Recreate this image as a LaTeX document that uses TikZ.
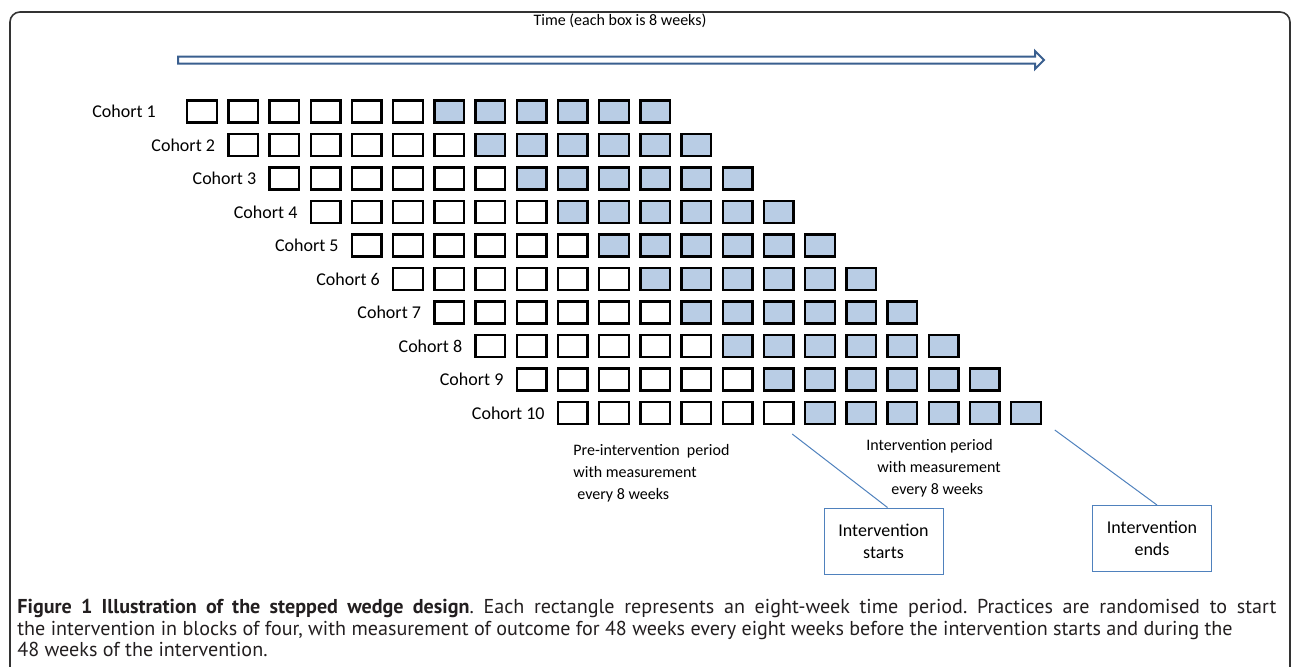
\documentclass[tikz,border=0pt]{standalone}
\usepackage{fontspec}
\setmainfont{Carlito}
\newfontfamily\captionfont{PT Sans}
\usepackage{tikz}
\usetikzlibrary{calc, positioning}
\definecolor{boxblue}{HTML}{B9CDE5}
\definecolor{lineblue}{HTML}{4F81BD}
\definecolor{arrowblue}{HTML}{3A5F8F}
\definecolor{framegray}{HTML}{333333}
\definecolor{captiongray}{HTML}{231F20}

\begin{document}
\begin{tikzpicture}[
    x=0.5pt, y=-0.5pt,
    period/.style={draw, line width=1.2pt, minimum width=14.8pt, minimum height=11pt, inner sep=0pt, outer sep=0pt},
    pre/.style={period, fill=white},
    post/.style={period, fill=boxblue},
    cohortlabel/.style={font=\fontsize{9}{11}\selectfont, anchor=east, inner sep=0pt},
    note/.style={font=\fontsize{8}{11}\selectfont, align=left, inner sep=0pt},
    callout/.style={draw=lineblue, line width=0.5pt, minimum width=59.5pt, minimum height=33pt, align=center, font=\fontsize{9}{11}\selectfont},
    pointer/.style={draw=lineblue, line width=0.5pt}
]
    \useasboundingbox (0,0) rectangle (1292,666);

    % Frame
    \draw[framegray, line width=0.8pt, rounded corners=5pt] (10,670) -- (10,12) -- (1290,12) -- (1290,670);

    % Time arrow
    \node[font=\fontsize{8}{10}\selectfont] (timelabel) at (620,21) {Time (each box is 8 weeks)};
    \draw[arrowblue, line width=1pt, fill=white] (178,56.5) -- (1035,56.5) -- (1035,51) -- (1044,60) -- (1035,69) -- (1035,63.5) -- (178,63.5) -- cycle;

    % Cohort rows - six periods before, six periods with intervention
    \foreach \r in {1,...,10} {
        \foreach \c in {1,...,12} {
            \pgfmathsetmacro{\bx}{202+41.2*(\r-1)+41.2*(\c-1)}
            \pgfmathsetmacro{\by}{111.5+33.5*(\r-1)}
            \ifnum\c<7
                \node[pre] (box\r-\c) at (\bx,\by) {};
            \else
                \node[post] (box\r-\c) at (\bx,\by) {};
            \fi
        }
    }

    % Cohort labels
    \node[cohortlabel] (cohort1) at ($(box1-1.west)+(-31,0)$) {Cohort 1};
    \foreach \r in {2,...,10} {
        \node[cohortlabel] (cohort\r) at ($(box\r-1.west)+(-13,0)$) {Cohort \r};
    }

    % Period notes
    \node[note, anchor=north west] (prenote) at (573,444) {Pre-intervention\ \ period\\with measurement\\\hspace{2pt}every 8 weeks};
    \node[note, anchor=north west] (postnote) at (866,439) {Intervention period\\\hspace{5.5pt}with measurement\\\hspace{12.5pt}every 8 weeks};

    % Callouts
    \node[callout] (starts) at (883.5,541) {Intervention\\starts};
    \node[callout] (ends) at (1152,538.5) {Intervention\\ends};
    \coordinate (startfoot) at ($(box10-7.south west)+(-13,10)$);
    \coordinate (endfoot) at ($(box10-12.south east)+(14,6)$);
    \draw[pointer] (startfoot) -- ($(starts.north)+(4,0)$);
    \draw[pointer] (endfoot) -- ($(ends.north)+(5,0)$);

    % Caption
    \node[anchor=north west, inner sep=0pt, text width=629.5pt, align=justify, text=captiongray,
          font=\captionfont\fontsize{10.05}{10.75}\selectfont\frenchspacing] (caption) at (17,599)
        {\textbf{Figure 1 Illustration of the stepped wedge design}. Each rectangle represents an eight-week time period. Practices are randomised to start\linebreak
         the intervention in blocks of four, with measurement of outcome for 48 weeks every eight weeks before the intervention starts and during the\newline
         48 weeks of the intervention.};
\end{tikzpicture}
\end{document}
